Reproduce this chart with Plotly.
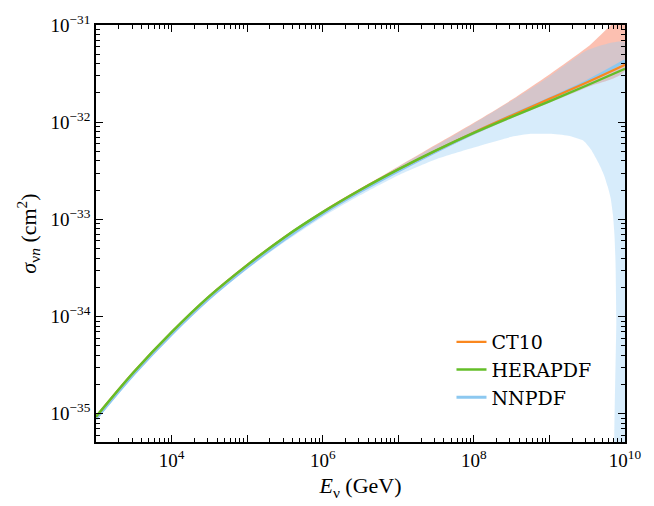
import plotly.graph_objects as go

# ---- data (log10 values) ----
logE = [3.0, 3.5, 4.0, 4.5, 5.0, 5.5, 6.0, 6.5, 7.0, 7.5, 8.0, 8.5, 9.0, 9.5, 10.0]
ct10_log = [-35.03, -34.57, -34.16, -33.79, -33.47, -33.18, -32.925, -32.695, -32.485, -32.29, -32.105, -31.93, -31.76, -31.59, -31.41]
hera_log = [-35.03, -34.57, -34.16, -33.79, -33.47, -33.18, -32.925, -32.695, -32.485, -32.29, -32.11, -31.945, -31.785, -31.62, -31.45]
nnpdf_log = [-35.05, -34.59, -34.18, -33.81, -33.49, -33.20, -32.94, -32.71, -32.50, -32.30, -32.11, -31.93, -31.76, -31.58, -31.37]

ct10_up_log = [-35.02, -34.56, -34.15, -33.78, -33.46, -33.17, -32.91, -32.68, -32.455, -32.23, -32.005, -31.77, -31.51, -31.23, -30.91]
ct10_lo_log = [-35.04, -34.58, -34.17, -33.80, -33.48, -33.19, -32.94, -32.71, -32.50, -32.31, -32.13, -31.96, -31.80, -31.64, -31.47]

nn_up_log = [-35.04, -34.58, -34.17, -33.80, -33.48, -33.19, -32.93, -32.69, -32.46, -32.24, -32.015, -31.78, -31.53, -31.26, -31.18]
nn_lo_E = [3.0, 3.5, 4.0, 4.5, 5.0, 5.5, 6.0, 6.5, 7.0, 7.5, 8.0, 8.5, 8.75, 9.0, 9.25, 9.45, 9.55, 9.65, 9.72, 9.77, 9.81, 9.84, 9.86, 9.875, 9.885, 9.89, 10.0]
nn_lo_log = [-35.07, -34.61, -34.20, -33.83, -33.51, -33.23, -32.975, -32.75, -32.545, -32.38, -32.26, -32.15, -32.12, -32.12, -32.14, -32.19, -32.28, -32.42, -32.54, -32.66, -32.78, -32.95, -33.15, -33.45, -34.0, -36.5, -36.5]

E = [10 ** v for v in logE]
p = lambda a: [10 ** v for v in a]
nnloE = [10 ** v for v in nn_lo_E]

fig = go.Figure()

# CT10 band
fig.add_trace(go.Scatter(
    x=E + E[::-1], y=p(ct10_up_log) + p(ct10_lo_log)[::-1],
    fill="toself", fillcolor="rgba(250,130,100,0.5)", line=dict(width=0, shape="spline", smoothing=0.8),
    mode="lines", showlegend=False, hoverinfo="skip"))
# NNPDF band
fig.add_trace(go.Scatter(
    x=E + nnloE[::-1], y=p(nn_up_log) + p(nn_lo_log)[::-1],
    fill="toself", fillcolor="rgba(150,205,245,0.38)", line=dict(width=0, shape="spline", smoothing=0.5),
    mode="lines", showlegend=False, hoverinfo="skip"))

fig.add_trace(go.Scatter(x=E, y=p(nnpdf_log), mode="lines", name="NNPDF",
                         line=dict(color="rgb(140,200,240)", width=3.2, shape="spline", smoothing=1.0),
                         legendrank=3))
fig.add_trace(go.Scatter(x=E, y=p(ct10_log), mode="lines", name="CT10",
                         line=dict(color="rgb(250,135,30)", width=2.2, shape="spline", smoothing=1.0),
                         legendrank=1))
fig.add_trace(go.Scatter(x=E, y=p(hera_log), mode="lines", name="HERAPDF",
                         line=dict(color="rgb(100,190,40)", width=2.4, shape="spline", smoothing=1.0),
                         legendrank=2))
# invisible anchor trace for the mirrored (top/right) axes
fig.add_trace(go.Scatter(x=[E[5]], y=[10 ** ct10_log[5]], xaxis="x2", yaxis="y2", mode="markers",
                         marker=dict(opacity=0), showlegend=False, hoverinfo="skip"))

serif = "DejaVu Serif"
tickserif = "Liberation Serif"

xmaj = [10 ** k for k in range(3, 11)]
xtxt = ["" if k % 2 else "10<sup>%d</sup>" % k for k in range(3, 11)]
xmin = [m * 10 ** k for k in range(3, 10) for m in range(2, 10)]
ymaj = [10.0 ** k for k in range(-35, -30)]
ytxt = ["10<sup>\u2212%d</sup>" % (-k) for k in range(-35, -30)]
ymin = [m * 10.0 ** k for k in range(-36, -31) for m in range(2, 10)]

tickfont = dict(family=tickserif, size=19, color="black")
common = dict(showgrid=False, zeroline=False, showline=True, linecolor="black",
              linewidth=1.8, ticks="inside", ticklen=7, tickwidth=1.3, tickcolor="black")
xcommon = dict(type="log", range=[3, 10], tickmode="array", tickvals=xmaj,
               minor=dict(tickmode="array", tickvals=xmin, ticks="inside", ticklen=4,
                          tickwidth=1.1, tickcolor="black"), **common)
ycommon = dict(type="log", range=[-35.29, -31.0], tickmode="array", tickvals=ymaj,
               minor=dict(tickmode="array", tickvals=ymin, ticks="inside", ticklen=4,
                          tickwidth=1.1, tickcolor="black"), **common)

fig.update_layout(
    xaxis=dict(ticktext=xtxt, tickfont=tickfont,
               title=dict(text="<i>E</i><sub>\u03bd</sub> (GeV)",
                          font=dict(family=tickserif, size=22, color="black"), standoff=8),
               **xcommon),
    yaxis=dict(ticktext=ytxt, tickfont=tickfont,
               title=dict(text="<i>\u03c3</i><sub>\u03bd<i>n</i></sub> (cm<sup>2</sup>)",
                          font=dict(family=tickserif, size=22, color="black"), standoff=8),
               **ycommon),
    xaxis2=dict(overlaying="x", side="top", anchor="y", showticklabels=False, **xcommon),
    yaxis2=dict(overlaying="y", side="right", anchor="x", showticklabels=False, **ycommon),
    width=654, height=506,
    margin=dict(l=96, r=19, t=23, b=58),
    paper_bgcolor="white", plot_bgcolor="white",
    legend=dict(x=0.672, y=0.06, xanchor="left", yanchor="bottom", bgcolor="rgba(0,0,0,0)",
                font=dict(family=serif, size=19, color="black"), traceorder="normal",
                itemwidth=30, tracegroupgap=0),
)

fig.write_html("out.html")
